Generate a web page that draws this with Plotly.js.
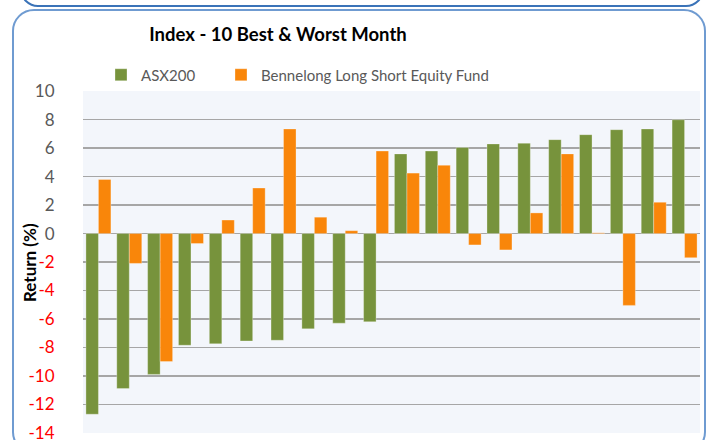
<!DOCTYPE html>
<html>
<head>
<meta charset="utf-8">
<script src="https://cdn.plot.ly/plotly-3.0.1.min.js"></script>
<style>
  html, body { margin: 0; padding: 0; background: #ffffff; }
  #wrap { position: relative; width: 707px; height: 440px; overflow: hidden; background: #fff; }
  #topbox { position: absolute; left: 20px; top: -40px; width: 684px; height: 47px;
            border: 2px solid #3a73b8; border-radius: 18px; box-sizing: border-box; }
  #mainbox { position: absolute; left: 12px; top: 9px; width: 694px; height: 445px;
             border: 2px solid #6f9bd1; border-radius: 22px; box-sizing: border-box; }
  #chart { position: absolute; left: 0; top: 0; width: 707px; height: 440px; }
</style>
</head>
<body>
<div id="wrap">
  <div id="topbox"></div>
  <div id="mainbox"></div>
  <div id="chart"></div>
</div>
<script>
// Data
const categories = ["W1","W2","W3","W4","W5","W6","W7","W8","W9","W10",
                    "B1","B2","B3","B4","B5","B6","B7","B8","B9","B10"];
const asx200 = [-12.7, -10.9, -9.9, -7.85, -7.75, -7.55, -7.5, -6.7, -6.3, -6.2,
                5.6, 5.8, 6.05, 6.3, 6.35, 6.6, 6.95, 7.3, 7.35, 8.0];
const bennelong = [3.8, -2.1, -9.0, -0.7, 0.95, 3.2, 7.35, 1.15, 0.2, 5.8,
                   4.25, 4.8, -0.8, -1.15, 1.45, 5.6, 0.05, -5.05, 2.2, -1.7];
const yTickVals = [-14, -12, -10, -8, -6, -4, -2, 0, 2, 4, 6, 8, 10];
const yTickText = yTickVals.map(v => v < 0
  ? '<span style="color:#ff0000">' + v + '</span>'
  : String(v));

const green = '#77933c';
const orange = '#f9860a';
const FONT = 'Lato, "Open Sans", sans-serif';

const traces = [
  { type: 'bar', name: 'ASX200', x: categories, y: asx200, legendwidth: 75,
    marker: { color: green, line: { color: 'rgba(255,255,255,0.5)', width: 0.6 } } },
  { type: 'bar', name: 'Bennelong Long Short Equity Fund', x: categories, y: bennelong,
    marker: { color: orange, line: { color: 'rgba(255,255,255,0.5)', width: 0.6 } } }
];

const layout = {
  width: 707, height: 440,
  margin: { l: 83, r: 7, t: 91, b: 7, pad: 0 },
  paper_bgcolor: 'rgba(0,0,0,0)',
  plot_bgcolor: '#f3f6fb',
  font: { family: FONT, color: '#595959', size: 16 },
  title: { text: '<b>Index - 10 Best & Worst Month</b>', x: 278 / 707, xanchor: 'center',
           y: 1 - 35 / 440, yanchor: 'middle',
           font: { family: FONT, size: 18.5, color: '#000000' } },
  barmode: 'group',
  bargap: 0.19,
  bargroupgap: 0,
  showlegend: true,
  legend: { orientation: 'h', x: (101 - 83) / 617, xanchor: 'left', y: 1 + (91 - 75) / 342, yanchor: 'middle',
            itemwidth: 30,
            font: { size: 15, color: '#595959' }, bgcolor: 'rgba(0,0,0,0)', traceorder: 'normal',
            itemclick: false },
  xaxis: { type: 'category', showticklabels: false, ticks: '', showgrid: false,
           zeroline: false, showline: false, fixedrange: true },
  yaxis: { range: [-14.02, 10.02], tickvals: yTickVals, ticktext: yTickText,
           showgrid: true, gridcolor: '#a6a6a6', gridwidth: 1.5,
           zeroline: true, zerolinecolor: '#a6a6a6', zerolinewidth: 1.5,
           showline: false, ticks: 'outside', ticklen: 24, tickcolor: 'rgba(0,0,0,0)',
           ticklabeloverflow: 'allow',
           tickfont: { size: 17, color: '#595959' },
           fixedrange: true },
  annotations: [
    { text: '<b>Return (%)</b>', xref: 'paper', yref: 'paper', x: (29 - 83) / 617, y: 0.5,
      xanchor: 'center', yanchor: 'middle', textangle: -90, showarrow: false,
      font: { family: FONT, size: 17, color: '#000000' } }
  ]
};

Plotly.newPlot('chart', traces, layout, { displayModeBar: false, staticPlot: true });
</script>
</body>
</html>
